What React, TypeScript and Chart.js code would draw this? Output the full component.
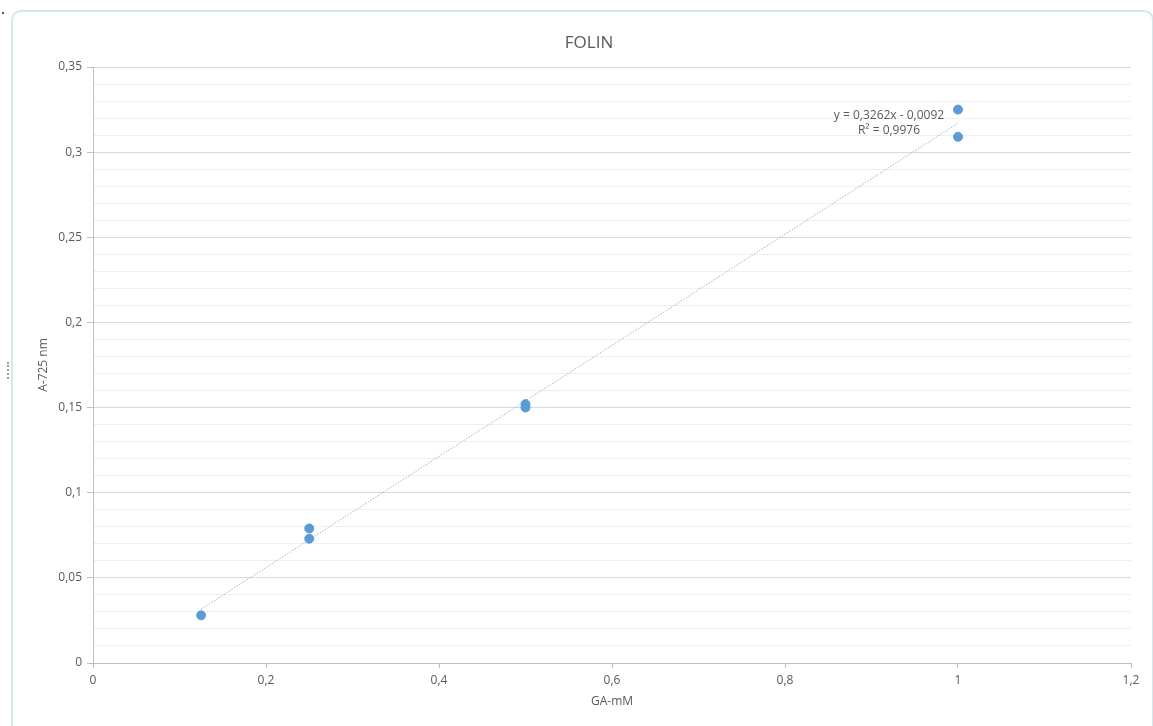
import React, { useEffect, useRef } from "react";
import { Chart, registerables } from "chart.js";

Chart.register(...registerables);

const TITLE = "FOLIN";
const X_TITLE = "GA-mM";
const Y_TITLE = "A-725 nm";

// measured points (GA-mM, A-725 nm)
const xValues = [0.125, 0.25, 0.25, 0.5, 0.5, 1, 1];
const yValues = [0.028, 0.079, 0.073, 0.152, 0.15, 0.325, 0.309];

// linear trendline endpoints (y = 0,3262x - 0,0092)
const trendX = [0.125, 1];
const trendY = [0.0316, 0.317];
const equationLines = ["y = 0,3262x - 0,0092", "R² = 0,9976"];

const X_MIN = 0;
const X_MAX = 1.2;
const X_STEP = 0.2;
const Y_MIN = 0;
const Y_MAX = 0.35;
const Y_MINOR_STEP = 0.01;
const Y_MAJOR_EVERY = 5; // label every 0.05

const FONT = "'Open Sans', 'DejaVu Sans', sans-serif";
const TEXT_COLOR = "#595959";

const fmt = (v: number, digits: number) => {
  const r = Math.round(v * Math.pow(10, digits)) / Math.pow(10, digits);
  return String(r).replace(".", ",");
};

const isMajorY = (v: number) => Math.round(v * 100) % Y_MAJOR_EVERY === 0;

const overlayPlugin = {
  id: "overlayText",
  afterDraw(chart: any) {
    const { ctx } = chart;
    ctx.save();
    ctx.fillStyle = TEXT_COLOR;
    ctx.textAlign = "center";
    ctx.textBaseline = "middle";
    ctx.font = `17px ${FONT}`;
    ctx.fillText(TITLE, 589, 43);
    ctx.font = `12px ${FONT}`;
    ctx.fillText(equationLines[0], 889, 116);
    ctx.fillText(equationLines[1], 889, 131);
    ctx.restore();
  },
};

export default function App() {
  const ref = useRef<HTMLCanvasElement | null>(null);

  useEffect(() => {
    if (!ref.current) return;
    const points = xValues.map((x, i) => ({ x, y: yValues[i] }));
    const trend = trendX.map((x, i) => ({ x, y: trendY[i] }));
    const chart = new Chart(ref.current, {
      type: "scatter",
      data: {
        datasets: [
          {
            type: "line",
            label: "trend",
            data: trend,
            borderColor: "#8cb8e0",
            borderWidth: 1,
            borderDash: [1.5, 1.5],
            pointRadius: 0,
            fill: false,
            order: 2,
          } as any,
          {
            label: "data",
            data: points,
            backgroundColor: "#5b9bd5",
            borderColor: "#5b9bd5",
            pointRadius: 4.5,
            pointHoverRadius: 4.5,
            order: 1,
          },
        ],
      },
      plugins: [overlayPlugin],
      options: {
        responsive: false,
        animation: false,
        layout: { padding: { top: 67, right: 22, left: 0, bottom: 0 } },
        plugins: {
          legend: { display: false },
          title: { display: false },
          tooltip: { enabled: false },
        },
        scales: {
          x: {
            type: "linear",
            min: X_MIN,
            max: X_MAX,
            afterFit: (s: any) => {
              s.height = 63;
            },
            ticks: {
              stepSize: X_STEP,
              color: TEXT_COLOR,
              font: { family: FONT, size: 12 },
              padding: 5,
              maxRotation: 0,
              callback: (v: any) => fmt(Number(v), 1),
            },
            grid: {
              drawOnChartArea: false,
              drawTicks: true,
              tickLength: 5,
              tickColor: "#bfbfbf",
            },
            border: { color: "#bfbfbf", width: 1 },
            title: {
              display: true,
              text: X_TITLE,
              color: TEXT_COLOR,
              font: { family: FONT, size: 12 },
              padding: { top: 0, bottom: 17 },
            },
          },
          y: {
            type: "linear",
            min: Y_MIN,
            max: Y_MAX,
            afterFit: (s: any) => {
              s.width = 93;
            },
            ticks: {
              stepSize: Y_MINOR_STEP,
              autoSkip: false,
              color: TEXT_COLOR,
              font: { family: FONT, size: 12 },
              padding: 5,
              callback: (v: any) => (isMajorY(Number(v)) ? fmt(Number(v), 2) : ""),
            },
            grid: {
              drawOnChartArea: true,
              drawTicks: true,
              tickLength: 6,
              color: (c: any) =>
                c.tick && isMajorY(c.tick.value) ? "#d9d9d9" : "#efefef",
              tickColor: (c: any) =>
                c.tick && isMajorY(c.tick.value) ? "#bfbfbf" : "rgba(0,0,0,0)",
            },
            border: { color: "#bfbfbf", width: 1 },
            title: {
              display: true,
              text: Y_TITLE,
              color: TEXT_COLOR,
              font: { family: FONT, size: 12 },
              padding: { top: 36, bottom: 0 },
            },
          },
        },
      },
    } as any);
    return () => chart.destroy();
  }, []);

  return (
    <div
      style={{
        position: "fixed",
        left: 0,
        top: 0,
        width: 1153,
        height: 726,
        overflow: "hidden",
        background: "#ffffff",
      }}
    >
      <div
        style={{
          position: "absolute",
          left: 11,
          top: 10,
          width: 1139,
          height: 800,
          border: "2px solid #d3e8eb",
          borderRadius: 10,
        }}
      />
      <div
        style={{
          position: "absolute",
          left: 2,
          top: 12,
          width: 2,
          height: 2,
          background: "#555",
        }}
      />
      <div
        style={{
          position: "absolute",
          left: 7,
          top: 362,
          width: 0,
          height: 17,
          borderLeft: "2px dotted #9a9a9a",
        }}
      />
      <canvas
        ref={ref}
        width={1153}
        height={726}
        style={{ position: "absolute", left: 0, top: 0, width: 1153, height: 726 }}
      />
    </div>
  );
}
